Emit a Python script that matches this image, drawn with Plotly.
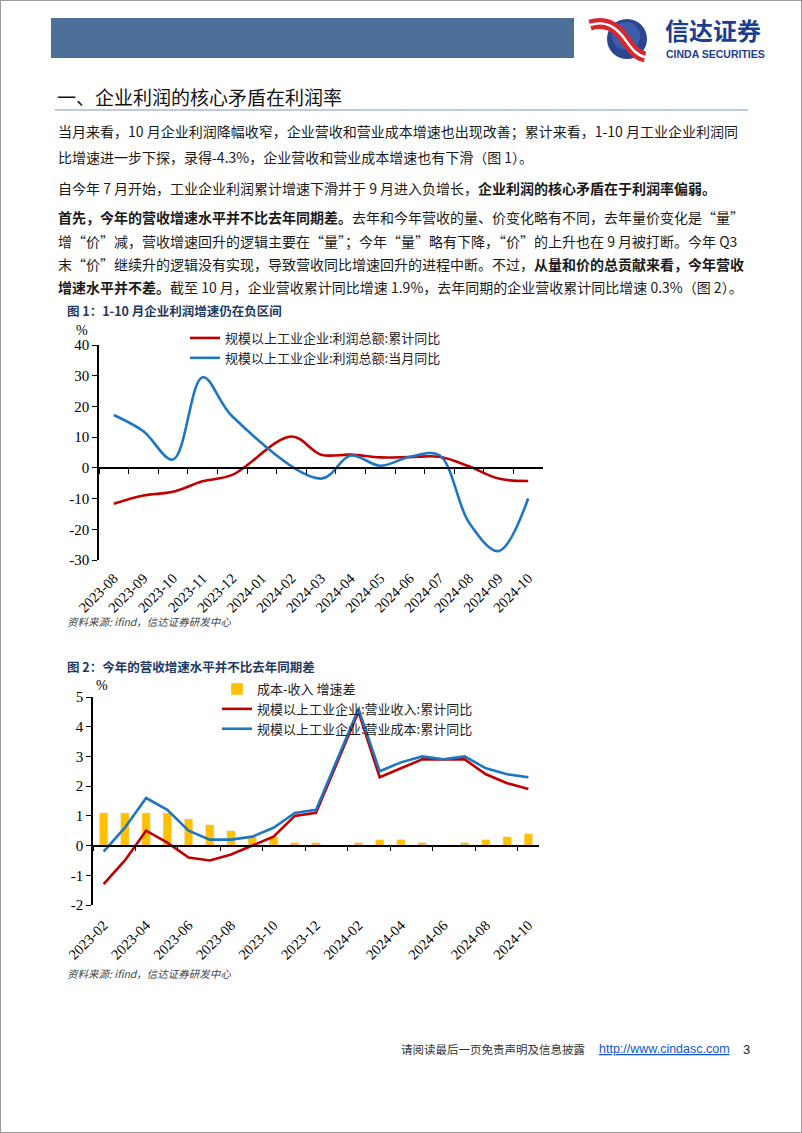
import plotly.graph_objects as go

W, H = 802, 1133


def fx(p):
    return p / W


def fy(p):
    return 1 - p / H


# ---------------- data ----------------
months1 = ["2023-08", "2023-09", "2023-10", "2023-11", "2023-12", "2024-01", "2024-02",
           "2024-03", "2024-04", "2024-05", "2024-06", "2024-07", "2024-08", "2024-09", "2024-10"]
profit_ytd = [-11.7, -9.0, -7.8, -4.4, -2.3, None, 10.2, 4.3, 4.3, 3.4, 3.5, 3.6, 0.5, -3.5, -4.3]
profit_month = [17.2, 11.9, 2.7, 29.5, 16.8, None, None, -3.5, 4.0, 0.7, 3.6, 4.1, -17.8, -27.1, -10.0]

months2 = ["2023-02", "2023-03", "2023-04", "2023-05", "2023-06", "2023-07", "2023-08",
           "2023-09", "2023-10", "2023-11", "2023-12", "2024-01", "2024-02", "2024-03",
           "2024-04", "2024-05", "2024-06", "2024-07", "2024-08", "2024-09", "2024-10"]
revenue_ytd = [-1.3, -0.5, 0.5, 0.1, -0.4, -0.5, -0.3, 0.0, 0.3, 1.0, 1.1, None, 4.5,
               2.3, 2.6, 2.9, 2.9, 2.9, 2.4, 2.1, 1.9]
cost_ytd = [-0.2, 0.6, 1.6, 1.2, 0.5, 0.2, 0.2, 0.3, 0.6, 1.1, 1.2, None, 4.6,
            2.5, 2.8, 3.0, 2.9, 3.0, 2.6, 2.4, 2.3]
cost_rev_gap = [1.1, 1.1, 1.1, 1.1, 0.9, 0.7, 0.5, 0.3, 0.3, 0.1, 0.1, None, 0.1,
                0.2, 0.2, 0.1, 0.0, 0.1, 0.2, 0.3, 0.4]

y1_tickvals = [-30, -20, -10, 0, 10, 20, 30, 40]
y1_ticktext = ["-30", "-20", "-10", "0", "10", "20", "30", "40"]
y2_tickvals = [-2, -1, 0, 1, 2, 3, 4, 5]
y2_ticktext = ["-2", "-1", "0", "1", "2", "3", "4", "5"]

name_red1 = "规模以上工业企业:利润总额:累计同比"
name_blue1 = "规模以上工业企业:利润总额:当月同比"
name_bar2 = "成本-收入 增速差"
name_red2 = "规模以上工业企业:营业收入:累计同比"
name_blue2 = "规模以上工业企业:营业成本:累计同比"

y1_range = [-30, 40]
y2_range = [-2, 5]

RED = "#C00000"
BLUE = "#1D76C2"
GOLD = "#FFC000"
CJK = "Noto Sans CJK SC"
SERIF = "Liberation Serif"

# chart geometry (pixels)
c1_x0, c1_x1, c1_top, c1_bot = 99, 543, 345, 560
c2_x0, c2_x1, c2_top, c2_bot = 93, 539, 697, 905

c1_dom = [fy(c1_bot), fy(c1_top)]
c2_dom = [fy(c2_bot), fy(c2_top)]
zero1 = c1_dom[0] + (0 - y1_range[0]) / (y1_range[1] - y1_range[0]) * (c1_dom[1] - c1_dom[0])
zero2 = c2_dom[0] + (0 - y2_range[0]) / (y2_range[1] - y2_range[0]) * (c2_dom[1] - c2_dom[0])

fig = go.Figure()

# ---------- chart 1 ----------
fig.add_trace(go.Scatter(x=months1, y=profit_ytd, name=name_red1, mode="lines",
                         line=dict(color=RED, width=2.6, shape="spline", smoothing=1.0),
                         connectgaps=True, xaxis="x", yaxis="y", legend="legend",
                         hoverinfo="skip"))
fig.add_trace(go.Scatter(x=months1, y=profit_month, name=name_blue1, mode="lines",
                         line=dict(color=BLUE, width=2.6, shape="spline", smoothing=1.0),
                         connectgaps=True, xaxis="x", yaxis="y", legend="legend",
                         hoverinfo="skip"))
# helper (invisible) trace registering categories on the zero-line axis
fig.add_trace(go.Scatter(x=months1, y=[None] * len(months1), mode="lines", showlegend=False,
                         xaxis="x3", yaxis="y", hoverinfo="skip"))

# ---------- chart 2 ----------
fig.add_trace(go.Bar(x=months2, y=cost_rev_gap, name=name_bar2, marker_color=GOLD,
                     width=0.4, xaxis="x2", yaxis="y2", legend="legend2", hoverinfo="skip"))
fig.add_trace(go.Scatter(x=months2, y=revenue_ytd, name=name_red2, mode="lines",
                         line=dict(color=RED, width=2.6), connectgaps=True,
                         xaxis="x2", yaxis="y2", legend="legend2", hoverinfo="skip"))
fig.add_trace(go.Scatter(x=months2, y=cost_ytd, name=name_blue2, mode="lines",
                         line=dict(color=BLUE, width=2.6), connectgaps=True,
                         xaxis="x2", yaxis="y2", legend="legend2", hoverinfo="skip"))
fig.add_trace(go.Scatter(x=months2, y=[None] * len(months2), mode="lines", showlegend=False,
                         xaxis="x4", yaxis="y2", hoverinfo="skip"))

tickfont = dict(family=SERIF, size=14.5, color="#000")
ytickfont = dict(family=SERIF, size=15, color="#000")

fig.update_layout(
    width=W, height=H,
    margin=dict(l=0, r=0, t=0, b=0, pad=0, autoexpand=False),
    paper_bgcolor="white", plot_bgcolor="white",
    showlegend=True,
    xaxis=dict(domain=[fx(c1_x0), fx(c1_x1)], anchor="y", type="category",
               categoryorder="array", categoryarray=months1, automargin=False,
               range=[-0.5, len(months1) - 0.5], tickangle=-45, ticks="",
               ticklabelstandoff=6,
               showline=False, showgrid=False, zeroline=False, tickfont=tickfont),
    xaxis3=dict(overlaying="x", anchor="free", position=zero1, type="category",
                categoryorder="array", categoryarray=months1, automargin=False,
                range=[-0.5, len(months1) - 0.5], ticks="outside", ticklen=5,
                tickwidth=1.3, tickcolor="#000", tickson="boundaries",
                showline=True, linecolor="#000", linewidth=1.6,
                showticklabels=False, showgrid=False, zeroline=False),
    yaxis=dict(domain=c1_dom, anchor="x", range=y1_range, automargin=False,
               tickmode="array", tickvals=y1_tickvals, ticktext=y1_ticktext,
               ticks="outside", ticklen=5, tickwidth=1.3, tickcolor="#000",
               showline=True, linecolor="#000", linewidth=1.6, showgrid=False,
               zeroline=False, tickfont=ytickfont),
    xaxis2=dict(domain=[fx(c2_x0), fx(c2_x1)], anchor="y2", type="category",
                categoryorder="array", categoryarray=months2, automargin=False,
                range=[-0.5, len(months2) - 0.5], tickmode="linear", tick0=0, dtick=2,
                tickangle=-45, ticks="", ticklabelstandoff=8,
                showline=False, showgrid=False,
                zeroline=False, tickfont=tickfont),
    xaxis4=dict(overlaying="x2", anchor="free", position=zero2, type="category",
                categoryorder="array", categoryarray=months2, automargin=False,
                range=[-0.5, len(months2) - 0.5], tickmode="linear", tick0=0, dtick=2,
                ticks="outside", ticklen=5, tickwidth=1.3, tickcolor="#000",
                tickson="boundaries", showline=True, linecolor="#000", linewidth=1.6,
                showticklabels=False, showgrid=False, zeroline=False),
    yaxis2=dict(domain=c2_dom, anchor="x2", range=y2_range, automargin=False,
                tickmode="array", tickvals=y2_tickvals, ticktext=y2_ticktext,
                ticks="outside", ticklen=5, tickwidth=1.3, tickcolor="#000",
                showline=True, linecolor="#000", linewidth=1.6, showgrid=False,
                zeroline=False, tickfont=ytickfont),
    legend=dict(x=fx(185), y=fy(323), xanchor="left", yanchor="top",
                bgcolor="rgba(0,0,0,0)", font=dict(family=CJK, size=13, color="#222"),
                tracegroupgap=0, itemwidth=30),
    legend2=dict(x=fx(217), y=fy(674), xanchor="left", yanchor="top",
                 bgcolor="rgba(0,0,0,0)", font=dict(family=CJK, size=13, color="#222"),
                 tracegroupgap=0, itemwidth=30),
)

# ---------------- page decorations ----------------
shapes = []
# page border
shapes.append(dict(type="rect", xref="paper", yref="paper", x0=0, x1=1, y0=0, y1=1,
                   line=dict(color="#9a9a9a", width=2), fillcolor="rgba(0,0,0,0)"))
# header bar
shapes.append(dict(type="rect", xref="paper", yref="paper", x0=fx(51), x1=fx(574),
                   y0=fy(58), y1=fy(18), line=dict(width=0), fillcolor="#4C6F97"))
# logo circle
shapes.append(dict(type="circle", xref="paper", yref="paper", x0=fx(607), x1=fx(647),
                   y0=fy(59), y1=fy(19), line=dict(width=0), fillcolor="#2B4591"))
shapes.append(dict(type="circle", xref="paper", yref="paper", x0=fx(612), x1=fx(640),
                   y0=fy(50), y1=fy(22), line=dict(width=0), fillcolor="#3D5DAA"))


def ppath(pts_cmd):
    out = []
    for tok in pts_cmd:
        if isinstance(tok, str):
            out.append(tok)
        else:
            out.append(f"{fx(tok[0]):.5f},{fy(tok[1]):.5f}")
    return " ".join(out)


ribbon = ppath(["M", (590, 25), "C", (606, 20), (616, 27), (624, 38), "S", (636, 55), (645, 57)])
shapes.append(dict(type="path", xref="paper", yref="paper", path=ribbon,
                   line=dict(color="#D7282F", width=11)))
shapes.append(dict(type="path", xref="paper", yref="paper", path=ribbon,
                   line=dict(color="white", width=2.5)))
# section underline
shapes.append(dict(type="line", xref="paper", yref="paper", x0=fx(55), x1=fx(748),
                   y0=fy(110), y1=fy(110), line=dict(color="#8496B0", width=1.2)))
fig.update_layout(shapes=shapes)

ann = []


def text(x, y, s, size=14, color="#222", family=CJK, xanchor="left", yanchor="middle"):
    ann.append(dict(x=fx(x), y=fy(y), xref="paper", yref="paper", text=s, showarrow=False,
                    xanchor=xanchor, yanchor=yanchor, align="left", borderpad=0,
                    font=dict(family=family, size=size, color=color)))


# logo texts
text(664, 48, "<b>信达证券</b>", size=24, color="#1D3E8E", yanchor="bottom")
text(665, 46.5, "<b>CINDA SECURITIES</b>", size=10.5, color="#1D3E8E",
     family="Liberation Sans", yanchor="top")

# section title
text(56, 97, "一、企业利润的核心矛盾在利润率", size=19, color="#111")

body = [
    (131, "当月来看，10 月企业利润降幅收窄，企业营收和营业成本增速也出现改善；累计来看，1-10 月工业企业利润同"),
    (157, "比增速进一步下探，录得-4.3%，企业营收和营业成本增速也有下滑（图 1）。"),
    (188, "自今年 7 月开始，工业企业利润累计增速下滑并于 9 月进入负增长，<b>企业利润的核心矛盾在于利润率偏弱。</b>"),
    (217, "<b>首先，今年的营收增速水平并不比去年同期差。</b>去年和今年营收的量、价变化略有不同，去年量价变化是“量”"),
    (241, "增“价”减，营收增速回升的逻辑主要在“量”；今年“量”略有下降，“价”的上升也在 9 月被打断。今年 Q3"),
    (264, "末“价”继续升的逻辑没有实现，导致营收同比增速回升的进程中断。不过，<b>从量和价的总贡献来看，今年营收</b>"),
    (287, "<b>增速水平并不差。</b>截至 10 月，企业营收累计同比增速 1.9%，去年同期的企业营收累计同比增速 0.3%（图 2）。"),
]
for y, s in body:
    text(57, y, s, size=14, color="#1a1a1a")

# chart titles
text(66, 311, "<b>图 1：1-10 月企业利润增速仍在负区间</b>", size=12.5, color="#1F3A63")
text(66, 666, "<b>图 2：今年的营收增速水平并不比去年同期差</b>", size=12.5, color="#1F3A63")

# unit labels
text(82, 330, "%", size=14, color="#000", family=SERIF, xanchor="center")
text(102, 685, "%", size=14, color="#000", family=SERIF, xanchor="center")

# sources
text(66, 621, "<i>资料来源: ifind，信达证券研发中心</i>", size=10.5, color="#444")
text(66, 973, "<i>资料来源: ifind，信达证券研发中心</i>", size=10.5, color="#444")

# footer
text(400, 1049, "请阅读最后一页免责声明及信息披露", size=11.5, color="#333")
text(598, 1049, "<a href='http://www.cindasc.com' style='color:#1155CC'><u>http://www.cindasc.com</u></a>",
     size=12.5, color="#1155CC", family="Liberation Sans")
text(742, 1049, "3", size=13, color="#222", family="Liberation Sans")

fig.update_layout(annotations=ann)

fig.write_html("out.html")
